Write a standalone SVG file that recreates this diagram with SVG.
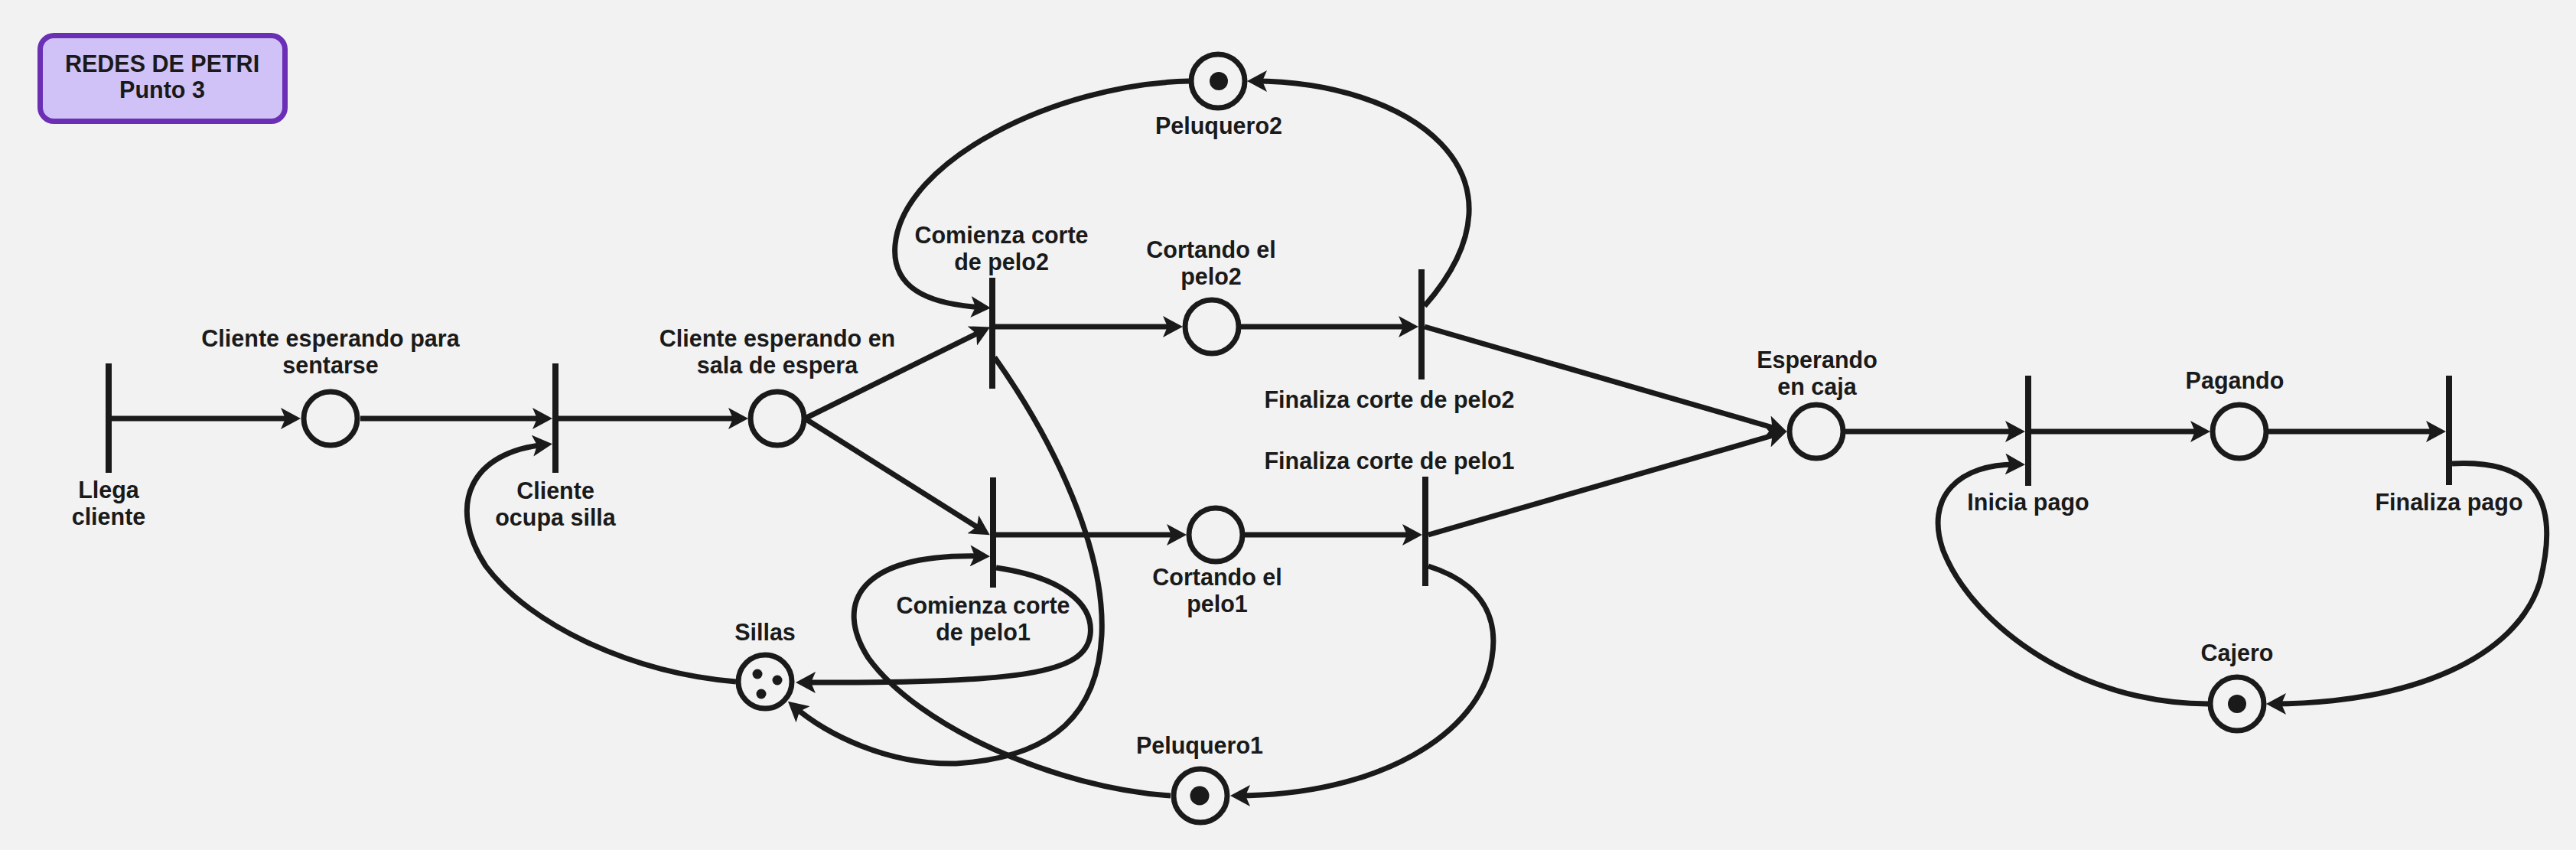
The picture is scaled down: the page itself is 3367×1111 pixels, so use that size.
<svg xmlns="http://www.w3.org/2000/svg" width="3367" height="1111" viewBox="0 0 3367 1111">
<style>
.lbl{font-family:"Liberation Sans",Arial,sans-serif;font-weight:bold;font-size:30.5px;fill:#1a1a1a;text-anchor:middle}
.place{fill:#f2f2f2;stroke:#1a1a1a;stroke-width:7}
.tok{fill:#1a1a1a}
.tr{stroke:#1a1a1a;stroke-width:8;fill:none}
.edge{fill:none;stroke:#1a1a1a;stroke-width:7;marker-end:url(#arr)}
</style>
<defs>
<marker id="arr" markerUnits="userSpaceOnUse" markerWidth="28" markerHeight="28" viewBox="0 0 28 28" refX="18" refY="14" orient="auto">
<path d="M0,0 L26,14 L0,28 L6,14 Z" fill="#1a1a1a"/>
</marker>
</defs>
<rect x="0" y="0" width="3367" height="1111" fill="#f2f2f2"/>

<g id="title">
<rect x="52.5" y="46.5" width="320" height="112" rx="18" fill="#d0c2f6" stroke="#6a2fb5" stroke-width="7"/>
<text class="lbl" x="212" y="94">REDES DE PETRI</text>
<text class="lbl" x="212" y="128">Punto 3</text>
</g>

<g id="connectors">
<path class="edge" d="M146,547 L385,547"/>
<path class="edge" d="M471,547 L714,547"/>
<path class="edge" d="M730,547 L970,547"/>
<path class="edge" d="M1052,547 L1287,431"/>
<path class="edge" d="M1052,547 L1287,695"/>
<path class="edge" d="M1301,427 L1538,427"/>
<path class="edge" d="M1622,427 L1846,427"/>
<path class="edge" d="M1302,699 L1543,699"/>
<path class="edge" d="M1627,699 L1851,699"/>
<path class="edge" d="M1862,427 L2328,562"/>
<path class="edge" d="M1867,699 L2328,566"/>
<path class="edge" d="M2412,564 L2639,564"/>
<path class="edge" d="M2655,564 L2881,564"/>
<path class="edge" d="M2965,564 L3189,564"/>
<path class="edge" d="M3205,606 C3320,600 3345,660 3320,760 C3290,860 3150,920 2970,920"/>
<path class="edge" d="M2886,920 C2720,920 2580,820 2540,720 C2515,650 2560,605 2639,607"/>
<path class="edge" d="M1862,400 C2015,225 1840,106 1638,106"/>
<path class="edge" d="M1554,106 C1380,110 1180,210 1170,320 C1165,375 1210,398 1287,402"/>
<path class="edge" d="M1867,740 C1930,760 1960,800 1950,860 C1935,960 1800,1040 1616,1040"/>
<path class="edge" d="M1530,1040 C1380,1030 1200,950 1135,860 C1090,790 1120,722 1286,727"/>
<path class="edge" d="M1302,742 C1390,755 1430,790 1425,830 C1418,880 1340,893 1048,892"/>
<path class="edge" d="M1300,467 C1380,580 1445,720 1440,830 C1435,930 1380,990 1250,998 C1160,1000 1080,960 1036,922"/>
<path class="edge" d="M962,891 C830,880 695,820 635,740 C583,660 615,590 714,581"/>
</g>

<g id="t-llega-cliente">
<line class="tr" x1="142" y1="475" x2="142" y2="618"/>
<text class="lbl" x="142" y="651">Llega</text>
<text class="lbl" x="142" y="686">cliente</text>
</g>
<g id="p-esperando-sentarse">
<circle class="place" cx="432" cy="547" r="35"/>
<text class="lbl" x="432" y="453">Cliente esperando para</text>
<text class="lbl" x="432" y="488">sentarse</text>
</g>
<g id="t-ocupa-silla">
<line class="tr" x1="726" y1="475" x2="726" y2="618"/>
<text class="lbl" x="726" y="652">Cliente</text>
<text class="lbl" x="726" y="687">ocupa silla</text>
</g>
<g id="p-sala-espera">
<circle class="place" cx="1016" cy="547" r="35"/>
<text class="lbl" x="1016" y="453">Cliente esperando en</text>
<text class="lbl" x="1016" y="488">sala de espera</text>
</g>
<g id="t-comienza-2">
<line class="tr" x1="1297" y1="363" x2="1297" y2="508"/>
<text class="lbl" x="1309" y="318">Comienza corte</text>
<text class="lbl" x="1309" y="353">de pelo2</text>
</g>
<g id="p-cortando-2">
<circle class="place" cx="1584" cy="427" r="35"/>
<text class="lbl" x="1583" y="337">Cortando el</text>
<text class="lbl" x="1583" y="372">pelo2</text>
</g>
<g id="t-finaliza-2">
<line class="tr" x1="1858" y1="352" x2="1858" y2="496"/>
<text class="lbl" x="1816" y="533">Finaliza corte de pelo2</text>
</g>
<g id="p-peluquero2">
<circle class="place" cx="1592" cy="106" r="35"/>
<circle class="tok" cx="1593" cy="106" r="12"/>
<text class="lbl" x="1593" y="175">Peluquero2</text>
</g>
<g id="t-comienza-1">
<line class="tr" x1="1298" y1="624" x2="1298" y2="768"/>
<text class="lbl" x="1285" y="802">Comienza corte</text>
<text class="lbl" x="1285" y="837">de pelo1</text>
</g>
<g id="p-cortando-1">
<circle class="place" cx="1589" cy="699" r="35"/>
<text class="lbl" x="1591" y="765">Cortando el</text>
<text class="lbl" x="1591" y="800">pelo1</text>
</g>
<g id="t-finaliza-1">
<line class="tr" x1="1863" y1="623" x2="1863" y2="766"/>
<text class="lbl" x="1816" y="613">Finaliza corte de pelo1</text>
</g>
<g id="p-sillas">
<circle class="place" cx="1000" cy="891" r="35"/>
<circle class="tok" cx="990" cy="881" r="6.5"/>
<circle class="tok" cx="1016" cy="889" r="6.5"/>
<circle class="tok" cx="995" cy="907" r="6.5"/>
<text class="lbl" x="1000" y="837">Sillas</text>
</g>
<g id="p-peluquero1">
<circle class="place" cx="1569" cy="1040" r="35"/>
<circle class="tok" cx="1568" cy="1040" r="12.5"/>
<text class="lbl" x="1568" y="985">Peluquero1</text>
</g>
<g id="p-esperando-caja">
<circle class="place" cx="2374" cy="564" r="35"/>
<text class="lbl" x="2375" y="481">Esperando</text>
<text class="lbl" x="2375" y="516">en caja</text>
</g>
<g id="t-inicia-pago">
<line class="tr" x1="2651" y1="491" x2="2651" y2="635"/>
<text class="lbl" x="2651" y="667">Inicia pago</text>
</g>
<g id="p-pagando">
<circle class="place" cx="2927" cy="564" r="35"/>
<text class="lbl" x="2921" y="508">Pagando</text>
</g>
<g id="t-finaliza-pago">
<line class="tr" x1="3201" y1="491" x2="3201" y2="634"/>
<text class="lbl" x="3201" y="667">Finaliza pago</text>
</g>
<g id="p-cajero">
<circle class="place" cx="2924" cy="920" r="35"/>
<circle class="tok" cx="2924" cy="920" r="12"/>
<text class="lbl" x="2924" y="864">Cajero</text>
</g>
</svg>
